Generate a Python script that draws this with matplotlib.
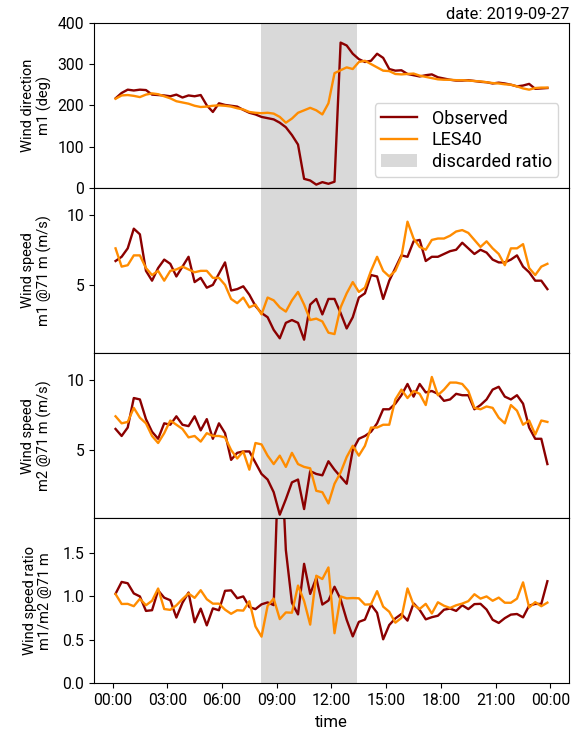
import numpy as np
import pandas as pd
import matplotlib
matplotlib.use('Agg')
import matplotlib.pyplot as plt
import matplotlib.dates as mdates
from matplotlib.ticker import MultipleLocator

plt.rcParams['font.family'] = ['Roboto', 'DejaVu Sans']
plt.rcParams['font.size'] = 11.3

# 20-minute samples, 00:10 ... 23:50
time = pd.date_range('2019-09-27 00:10', '2019-09-27 23:50', freq='20min')

# wind direction m1 (deg)
wd_obs = [217, 230, 238, 236, 238, 237, 226, 225, 224, 222, 226, 219,
          224, 222, 225, 200, 184, 205, 201, 199, 197, 189, 182, 178,
          172, 169, 166, 158, 147, 128, 105, 22, 18, 8, 14, 10,
          15, 352, 345, 325, 312, 305, 308, 325, 315, 288, 284, 285,
          276, 273, 270, 273, 275, 268, 265, 262, 260, 260, 261, 259,
          257, 256, 253, 255, 253, 250, 246, 248, 252, 240, 241, 242]
wd_les = [216, 224, 225, 223, 220, 226, 229, 227, 222, 217, 210, 207,
          204, 199, 196, 197, 199, 200, 199, 197, 193, 190, 184, 182,
          181, 182, 180, 172, 158, 168, 182, 188, 194, 188, 178, 205,
          278, 285, 292, 288, 305, 308, 300, 292, 284, 283, 276, 275,
          276, 277, 272, 269, 266, 263, 262, 262, 261, 261, 260, 259,
          258, 256, 254, 253, 251, 250, 246, 241, 238, 242, 243, 243]

# wind speed m1 @71 m (m/s)
ws1_obs = [6.7, 7.0, 7.6, 9.0, 8.6, 6.0, 5.3, 6.2, 6.8, 6.5, 5.6, 6.3,
           7.0, 5.2, 5.5, 4.8, 5.0, 5.8, 6.6, 4.6, 4.7, 4.9, 4.3, 3.5,
           3.0, 2.7, 1.8, 1.2, 2.3, 2.5, 2.3, 1.1, 3.6, 4.0, 2.9, 4.0,
           4.0, 3.0, 1.9, 2.7, 4.1, 4.4, 5.7, 5.6, 4.0, 5.3, 6.2, 7.1,
           7.0, 8.1, 8.2, 6.7, 7.0, 7.0, 7.2, 7.4, 7.5, 8.0, 7.6, 7.2,
           7.5, 7.3, 6.8, 6.6, 6.6, 6.8, 7.1, 6.3, 5.9, 5.3, 5.3, 4.7]
ws1_les = [7.6, 6.3, 6.4, 7.1, 7.1, 6.2, 5.7, 6.0, 5.3, 6.0, 6.1, 6.3,
           6.1, 5.9, 6.0, 6.0, 5.5, 5.5, 5.0, 4.0, 3.7, 4.1, 3.4, 3.6,
           2.9, 4.1, 3.9, 3.4, 3.1, 3.9, 4.5, 3.6, 2.5, 2.6, 2.4, 1.6,
           1.5, 3.4, 4.4, 5.2, 4.5, 4.8, 6.0, 7.0, 6.0, 5.6, 6.0, 7.0,
           9.5, 8.3, 7.7, 7.5, 8.2, 8.3, 8.3, 8.5, 8.8, 8.9, 8.7, 8.2,
           7.7, 8.1, 7.6, 7.2, 6.4, 7.6, 7.6, 7.9, 6.2, 5.7, 6.3, 6.5]

# wind speed m2 @71 m (m/s)
ws2_obs = [6.5, 6.0, 6.6, 8.7, 8.6, 7.2, 6.3, 5.8, 6.9, 6.8, 7.4, 6.8,
           6.7, 7.4, 6.4, 7.2, 5.8, 6.9, 6.2, 4.3, 4.8, 4.9, 4.9, 4.1,
           3.3, 2.9, 2.0, 0.4, 1.5, 2.7, 2.9, 0.8, 3.5, 3.3, 3.2, 4.2,
           3.6, 3.1, 2.6, 5.0, 5.8, 6.0, 6.3, 6.9, 7.9, 7.9, 8.3, 8.9,
           9.7, 8.8, 9.7, 9.1, 9.2, 9.0, 8.5, 8.6, 9.0, 8.9, 8.9, 7.9,
           8.2, 8.6, 9.3, 9.5, 8.8, 8.6, 8.9, 8.3, 6.6, 5.8, 5.8, 4.0]
ws2_les = [7.4, 6.9, 7.0, 8.0, 7.3, 6.9, 6.0, 5.5, 6.2, 7.1, 6.8, 6.5,
           5.9, 6.0, 5.6, 6.2, 6.0, 6.0, 5.9, 5.0, 4.4, 4.9, 3.6, 5.5,
           5.4, 4.6, 4.0, 4.6, 3.8, 4.8, 4.0, 3.8, 3.7, 2.1, 2.0, 1.2,
           2.6, 3.4, 4.5, 5.3, 4.6, 5.3, 6.6, 6.6, 6.8, 6.8, 8.6, 9.3,
           8.7, 9.2, 9.0, 8.2, 10.2, 8.9, 9.3, 9.8, 9.8, 9.7, 9.2, 8.0,
           7.9, 8.1, 8.0, 7.3, 6.9, 8.2, 7.8, 6.8, 7.1, 6.1, 7.1, 7.0]

discard_start = pd.Timestamp('2019-09-27 08:09')
discard_end = pd.Timestamp('2019-09-27 13:23')

ratio_obs = np.array(ws1_obs) / np.array(ws2_obs)
ratio_les = np.array(ws1_les) / np.array(ws2_les)

c_obs = '#8b0000'
c_les = '#ff8c00'
c_gray = '#d9d9d9'

fig, axes = plt.subplots(4, 1, figsize=(5.8, 7.35), dpi=100, sharex=True)
fig.subplots_adjust(left=0.162, right=0.981, top=0.969, bottom=0.0703, hspace=0)

series = [(wd_obs, wd_les), (ws1_obs, ws1_les), (ws2_obs, ws2_les), (ratio_obs, ratio_les)]
labels = ['Wind direction\nm1 (deg)', 'Wind speed\nm1 @71 m (m/s)',
          'Wind speed\nm2 @71 m (m/s)', 'Wind speed ratio\nm1/m2 @71 m']

for ax, (obs, les), lab in zip(axes, series, labels):
    ax.axvspan(discard_start, discard_end, color=c_gray, lw=0, label='discarded ratio', zorder=0)
    ax.plot(time, obs, color=c_obs, lw=1.7, label='Observed')
    ax.plot(time, les, color=c_les, lw=1.7, label='LES40')
    ax.set_ylabel(lab, fontsize=10.5, linespacing=1.1)

axes[0].set_ylim(0, 400)
axes[0].yaxis.set_major_locator(MultipleLocator(100))
for ax in axes[1:3]:
    ax.set_ylim(0.15, 11.9)
    ax.yaxis.set_major_locator(MultipleLocator(5))
axes[3].set_ylim(0, 1.9)
axes[3].yaxis.set_major_locator(MultipleLocator(0.5))

h, l = axes[0].get_legend_handles_labels()
order = [1, 2, 0]
axes[0].legend([h[i] for i in order], [l[i] for i in order], loc='lower right',
               fontsize=13, labelspacing=0.2, borderpad=0.35, borderaxespad=0.6)

axes[0].set_title('date: 2019-09-27', loc='right', pad=3, fontsize=11.9)

axes[3].xaxis.set_major_locator(mdates.HourLocator(byhour=range(0, 24, 3)))
axes[3].xaxis.set_major_formatter(mdates.DateFormatter('%H:%M'))
axes[3].set_xlabel('time', fontsize=12, labelpad=5)
for ax in axes[:3]:
    ax.tick_params(axis='x', bottom=False)

fig.align_ylabels(axes)
fig.savefig('out.png', dpi=100)
